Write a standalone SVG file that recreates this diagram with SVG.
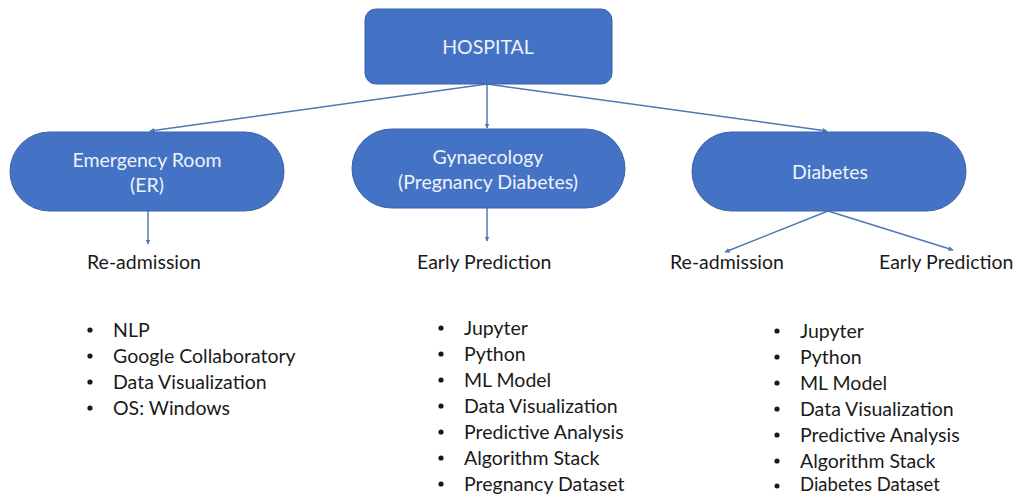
<svg xmlns="http://www.w3.org/2000/svg" width="1017" height="494" viewBox="0 0 1017 494">
  <style>
    .node { fill: #4472C4; stroke: #3A62A8; stroke-width: 1; }
    .ntext { font-family: Lato, "Open Sans", sans-serif; font-size: 19.5px; fill: #EEF2FA; text-anchor: middle; }
    .label { font-family: Lato, "Open Sans", sans-serif; font-size: 19.5px; fill: #1a1a1a; }
    .list text { font-family: Lato, "Open Sans", sans-serif; font-size: 19.5px; fill: #1a1a1a; }
    .list circle { fill: #1a1a1a; }
    .edge { stroke: #4F78B4; stroke-width: 1.5; fill: none; marker-end: url(#arrow); }
  </style>
  <defs>
    <marker id="arrow" viewBox="0 0 10 10" refX="9" refY="5" markerWidth="5" markerHeight="5" orient="auto" markerUnits="userSpaceOnUse">
      <path d="M0,0 L10,5 L0,10 z" fill="#4F78B4"/>
    </marker>
  </defs>
  <rect width="1017" height="494" fill="#ffffff"/>

  <g id="connectors">
    <line class="edge" x1="487" y1="84" x2="150" y2="131"/>
    <line class="edge" x1="487" y1="84" x2="487" y2="128"/>
    <line class="edge" x1="487" y1="84" x2="827" y2="131"/>
    <line class="edge" x1="148" y1="211" x2="148" y2="244"/>
    <line class="edge" x1="487" y1="208" x2="487" y2="241"/>
    <line class="edge" x1="828" y1="211" x2="725" y2="252"/>
    <line class="edge" x1="828" y1="211" x2="953" y2="250"/>
  </g>

  <g id="hospital">
    <rect class="node" x="365" y="9" width="247" height="75" rx="11"/>
    <text class="ntext" x="488" y="54">HOSPITAL</text>
  </g>

  <g id="emergency-room">
    <rect class="node" x="10" y="132" width="274" height="79" rx="39.5"/>
    <text class="ntext" x="147" y="167">Emergency Room</text>
    <text class="ntext" x="147" y="192">(ER)</text>
  </g>

  <g id="gynaecology">
    <rect class="node" x="352" y="129" width="273" height="79" rx="39.5"/>
    <text class="ntext" x="488" y="164">Gynaecology</text>
    <text class="ntext" x="488" y="189">(Pregnancy Diabetes)</text>
  </g>

  <g id="diabetes">
    <rect class="node" x="692" y="132" width="274" height="79" rx="39.5"/>
    <text class="ntext" x="830" y="179">Diabetes</text>
  </g>

  <g id="er-outcome">
    <text class="label" x="87" y="269">Re-admission</text>
  </g>
  <g id="gyn-outcome">
    <text class="label" x="417" y="269">Early Prediction</text>
  </g>
  <g id="diabetes-outcomes">
    <text class="label" x="670" y="269">Re-admission</text>
    <text class="label" x="879" y="269">Early Prediction</text>
  </g>

  <g id="er-tools" class="list">
    <circle cx="90" cy="330" r="2.6"/><text x="113" y="337">NLP</text>
    <circle cx="90" cy="356" r="2.6"/><text x="113" y="363">Google Collaboratory</text>
    <circle cx="90" cy="382" r="2.6"/><text x="113" y="389">Data Visualization</text>
    <circle cx="90" cy="408" r="2.6"/><text x="113" y="415">OS: Windows</text>
  </g>

  <g id="gyn-tools" class="list">
    <circle cx="441" cy="328" r="2.6"/><text x="464" y="335">Jupyter</text>
    <circle cx="441" cy="354" r="2.6"/><text x="464" y="361">Python</text>
    <circle cx="441" cy="380" r="2.6"/><text x="464" y="387">ML Model</text>
    <circle cx="441" cy="406" r="2.6"/><text x="464" y="413">Data Visualization</text>
    <circle cx="441" cy="432" r="2.6"/><text x="464" y="439">Predictive Analysis</text>
    <circle cx="441" cy="458" r="2.6"/><text x="464" y="465">Algorithm Stack</text>
    <circle cx="441" cy="484" r="2.6"/><text x="464" y="491">Pregnancy Dataset</text>
  </g>

  <g id="diabetes-tools" class="list">
    <circle cx="777" cy="331" r="2.6"/><text x="800" y="338">Jupyter</text>
    <circle cx="777" cy="357" r="2.6"/><text x="800" y="364">Python</text>
    <circle cx="777" cy="383" r="2.6"/><text x="800" y="390">ML Model</text>
    <circle cx="777" cy="409" r="2.6"/><text x="800" y="416">Data Visualization</text>
    <circle cx="777" cy="435" r="2.6"/><text x="800" y="442">Predictive Analysis</text>
    <circle cx="777" cy="461" r="2.6"/><text x="800" y="468">Algorithm Stack</text>
    <circle cx="777" cy="486" r="2.5"/><text x="800" y="491" style="font-size:18.5px">Diabetes Dataset</text>
  </g>
</svg>
